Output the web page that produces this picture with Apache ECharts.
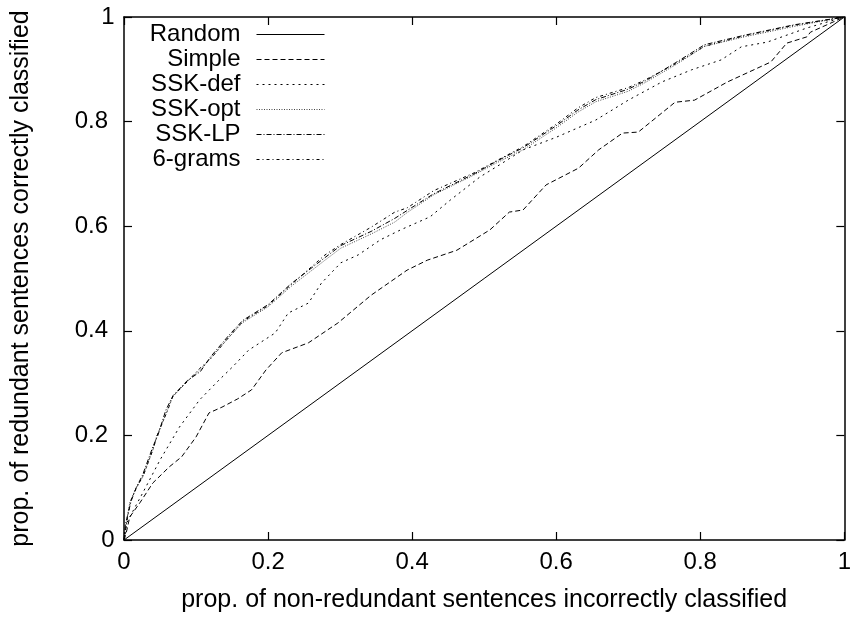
<!DOCTYPE html>
<html>
<head>
<meta charset="utf-8">
<script src="https://cdn.jsdelivr.net/npm/echarts@6/dist/echarts.min.js"></script>
<style>
html, body { margin: 0; padding: 0; background: #fff; }
#main { width: 854px; height: 619px; }
</style>
</head>
<body>
<div id="main"></div>
<script>
// 刻度
var tickValues = [0, 0.2, 0.4, 0.6, 0.8, 1];
var seriesNames = ['Random', 'Simple', 'SSK-def', 'SSK-opt', 'SSK-LP', '6-grams'];

// 曲线数据 [x, y]
var randomData = [[0, 0], [1, 1]];
var simpleData = [
    [0, 0], [0.003, 0.013], [0.008, 0.044], [0.022, 0.071], [0.04, 0.109], [0.063, 0.14],
    [0.08, 0.159], [0.1, 0.197], [0.118, 0.243], [0.136, 0.254], [0.158, 0.27], [0.177, 0.287],
    [0.197, 0.325], [0.219, 0.358], [0.256, 0.377], [0.297, 0.415], [0.343, 0.468], [0.393, 0.516],
    [0.421, 0.535], [0.462, 0.554], [0.508, 0.593], [0.535, 0.627], [0.554, 0.631], [0.586, 0.679],
    [0.631, 0.711], [0.659, 0.746], [0.692, 0.778], [0.714, 0.78], [0.765, 0.837], [0.792, 0.841],
    [0.838, 0.876], [0.898, 0.914], [0.92, 0.95], [0.948, 0.962], [0.953, 0.971], [1, 1]
];
var sskDefData = [
    [0, 0], [0.004, 0.033], [0.015, 0.062], [0.026, 0.09], [0.05, 0.153], [0.077, 0.216], [0.105, 0.268],
    [0.132, 0.306], [0.15, 0.33], [0.173, 0.363], [0.21, 0.396], [0.228, 0.434], [0.256, 0.453],
    [0.274, 0.491], [0.301, 0.53], [0.325, 0.545], [0.356, 0.574], [0.384, 0.593], [0.425, 0.618],
    [0.453, 0.65], [0.494, 0.694], [0.521, 0.717], [0.554, 0.746], [0.6, 0.77], [0.655, 0.803],
    [0.7, 0.841], [0.747, 0.876], [0.788, 0.899], [0.829, 0.918], [0.857, 0.943], [0.893, 0.952],
    [0.948, 0.979], [1, 1]
];
var sskOptData = [
    [0, 0], [0.002, 0.025], [0.008, 0.071], [0.016, 0.098], [0.026, 0.12], [0.04, 0.172], [0.045, 0.197],
    [0.059, 0.243], [0.067, 0.273], [0.087, 0.302], [0.105, 0.325], [0.118, 0.344], [0.146, 0.388],
    [0.164, 0.415], [0.2, 0.446], [0.232, 0.485], [0.279, 0.535], [0.301, 0.558], [0.343, 0.585],
    [0.376, 0.608], [0.393, 0.626], [0.43, 0.66], [0.486, 0.698], [0.517, 0.721], [0.554, 0.746],
    [0.6, 0.788], [0.63, 0.818], [0.655, 0.838], [0.7, 0.858], [0.724, 0.875], [0.765, 0.908],
    [0.806, 0.944], [0.861, 0.962], [0.93, 0.982], [1, 1]
];
var sskLpData = [
    [0, 0], [0.002, 0.03], [0.01, 0.075], [0.017, 0.1], [0.026, 0.125], [0.04, 0.178], [0.047, 0.2],
    [0.058, 0.248], [0.068, 0.276], [0.088, 0.305], [0.106, 0.322], [0.12, 0.35], [0.146, 0.392],
    [0.165, 0.42], [0.2, 0.45], [0.232, 0.49], [0.279, 0.54], [0.301, 0.563], [0.343, 0.59],
    [0.376, 0.615], [0.393, 0.63], [0.43, 0.662], [0.486, 0.7], [0.517, 0.724], [0.554, 0.75],
    [0.6, 0.792], [0.63, 0.822], [0.655, 0.842], [0.7, 0.862], [0.724, 0.878], [0.765, 0.912],
    [0.806, 0.947], [0.861, 0.965], [0.93, 0.985], [1, 1]
];
var gramsData = [
    [0, 0], [0.003, 0.028], [0.009, 0.074], [0.017, 0.099], [0.027, 0.124], [0.041, 0.176], [0.046, 0.2],
    [0.06, 0.246], [0.068, 0.275], [0.088, 0.303], [0.105, 0.328], [0.12, 0.346], [0.147, 0.39],
    [0.165, 0.418], [0.2, 0.448], [0.232, 0.488], [0.279, 0.545], [0.301, 0.565], [0.343, 0.598],
    [0.376, 0.627], [0.393, 0.635], [0.43, 0.668], [0.486, 0.702], [0.517, 0.725], [0.554, 0.752],
    [0.6, 0.795], [0.63, 0.826], [0.655, 0.846], [0.7, 0.865], [0.724, 0.88], [0.765, 0.91],
    [0.806, 0.944], [0.861, 0.964], [0.93, 0.984], [1, 1]
];

var font = 'Liberation Sans, Arial, sans-serif';
var myChart = echarts.init(document.getElementById('main'));

function boxAxis(pos, showLabel) {
    return {
        type: 'value',
        position: pos,
        min: 0,
        max: 1,
        interval: 0.2,
        splitLine: { show: false },
        axisLine: { show: true, onZero: false, lineStyle: { color: '#000', width: 1.5 } },
        axisTick: { show: true, inside: true, length: 8, lineStyle: { color: '#000', width: 1.2 } },
        axisLabel: { show: showLabel, color: '#000', fontSize: 24, fontFamily: font }
    };
}

var xBottom = boxAxis('bottom', true);
xBottom.axisLabel.margin = 10;
xBottom.axisLabel.alignMinLabel = 'center';
xBottom.axisLabel.alignMaxLabel = 'center';
xBottom.name = 'prop. of non-redundant sentences incorrectly classified';
xBottom.nameLocation = 'middle';
xBottom.nameGap = 48;
xBottom.nameTextStyle = { color: '#000', fontSize: 25, fontFamily: font };

var yLeft = boxAxis('left', true);
yLeft.axisLabel.margin = 16;
yLeft.axisLabel.alignMinLabel = 'center';
yLeft.axisLabel.alignMaxLabel = 'center';
yLeft.name = 'prop. of redundant sentences correctly classified';
yLeft.nameLocation = 'middle';
yLeft.nameGap = 90;
yLeft.nameTextStyle = { color: '#000', fontSize: 25, fontFamily: font };

function line(name, data, dash, color) {
    return {
        name: name,
        type: 'line',
        data: data,
        symbol: 'none',
        lineStyle: { color: color || '#000', width: 1, type: dash },
        itemStyle: { color: color || '#000' }
    };
}

var option = {
    animation: false,
    backgroundColor: '#fff',
    grid: { left: 124, right: 3, top: 17, bottom: 79 },
    legend: {
        orient: 'vertical',
        align: 'right',
        right: 529,
        top: 22,
        padding: 0,
        itemGap: 0,
        itemWidth: 68,
        itemHeight: 14,
        data: seriesNames,
        itemStyle: { opacity: 0 },
        lineStyle: { width: 1 },
        textStyle: { color: '#000', fontSize: 24, fontFamily: font, lineHeight: 25, padding: [0, 11, 0, 0] }
    },
    xAxis: [xBottom, boxAxis('top', false)],
    yAxis: [yLeft, boxAxis('right', false)],
    series: [
        line(seriesNames[0], randomData, 'solid'),
        line(seriesNames[1], simpleData, [5, 3]),
        line(seriesNames[2], sskDefData, [2, 4]),
        line(seriesNames[3], sskOptData, [1, 1.5], '#444'),
        line(seriesNames[4], sskLpData, [5, 2, 1, 2]),
        line(seriesNames[5], gramsData, [3, 3, 1, 3])
    ]
};

myChart.setOption(option);
</script>
</body>
</html>
